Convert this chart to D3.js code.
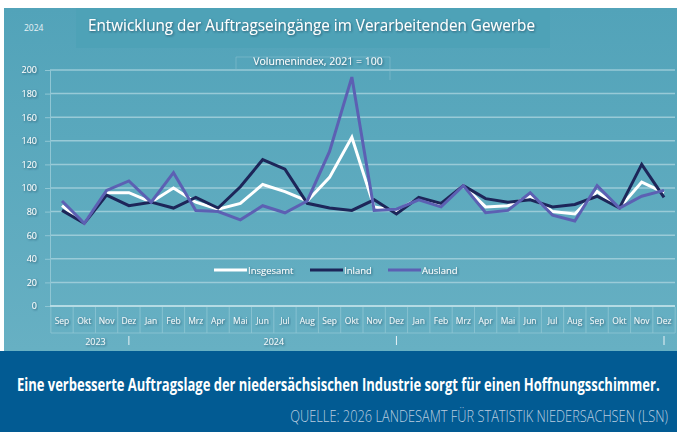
<!DOCTYPE html>
<html>
<head>
<meta charset="utf-8">
<script src="https://cdn.jsdelivr.net/npm/d3@7"></script>
<style>
  body { margin: 0; background: #fff; }
  svg { display: block; }
</style>
</head>
<body>
<div id="chart"></div>
<script>
// Monatsachse Sep 2023 bis Dez 2025
const months = ["Sep","Okt","Nov","Dez","Jan","Feb","Mrz","Apr","Mai","Jun","Jul","Aug",
  "Sep","Okt","Nov","Dez","Jan","Feb","Mrz","Apr","Mai","Jun","Jul","Aug","Sep","Okt","Nov","Dez"];
const years = [{ label: "2023", from: 0, to: 3 }, { label: "2024", from: 4, to: 15 }, { label: "", from: 16, to: 27 }];

const insgesamt = [85, 70, 96, 96, 88, 100, 88, 82, 87, 103, 97, 89,
  109, 143, 84, 81, 91, 86, 102, 84, 85, 93, 80, 78, 97, 83, 105, 96];
const inland = [81, 70, 94, 85, 88, 83, 92, 83, 101, 124, 116, 87,
  83, 81, 90, 78, 92, 87, 102, 91, 88, 90, 84, 86, 93, 83, 120, 92];
const ausland = [89, 70, 98, 106, 88, 113, 81, 80, 73, 85, 79, 89,
  131, 194, 81, 82, 90, 84, 102, 79, 81, 96, 77, 72, 102, 83, 93, 98];

const yTicks = [0, 20, 40, 60, 80, 100, 120, 140, 160, 180, 200];

const W = 677, H = 432;
const svg = d3.select("#chart").append("svg").attr("width", W).attr("height", H);

const defs = svg.append("defs");
const bg = defs.append("linearGradient").attr("id", "bg").attr("x1", 0).attr("y1", 0).attr("x2", 0).attr("y2", 1);
bg.append("stop").attr("offset", "0%").attr("stop-color", "#52a3b9");
bg.append("stop").attr("offset", "100%").attr("stop-color", "#67b0c3");
const shadow = defs.append("filter").attr("id", "sh").attr("x", "-10%").attr("y", "-30%").attr("width", "120%").attr("height", "160%");
shadow.append("feDropShadow").attr("dx", 1).attr("dy", 1).attr("stdDeviation", 0.8)
  .attr("flood-color", "#1c3d55").attr("flood-opacity", 0.7);

// Hintergrund
svg.append("rect").attr("x", 4).attr("y", 8).attr("width", W - 4).attr("height", 343).attr("fill", "url(#bg)");
svg.append("rect").attr("x", 76).attr("y", 8).attr("width", 474).attr("height", 40).attr("fill", "#4ea2b7");
svg.append("rect").attr("x", 0).attr("y", 351).attr("width", W).attr("height", H - 351).attr("fill", "#025b93");

// Titel
svg.append("text").attr("x", 88).attr("y", 31).attr("fill", "#fff").attr("filter", "url(#sh)")
  .style("font-family", "'Open Sans', sans-serif").style("font-size", "16.5px")
  .attr("textLength", 447).attr("lengthAdjust", "spacingAndGlyphs")
  .text("Entwicklung der Auftragseingänge im Verarbeitenden Gewerbe");
svg.append("text").attr("x", 24).attr("y", 31).attr("fill", "#e8f2f6")
  .style("font-family", "'Open Sans', sans-serif").style("font-size", "8.5px").text("2024");

// Skalen
const x = d3.scalePoint().domain(d3.range(months.length)).range([62, 664]);
const step = x.step();
const y = d3.scaleLinear().domain([0, 200]).range([306, 70]);

// Gitternetz
svg.append("g").selectAll("line").data(yTicks.filter(d => d > 0)).join("line")
  .attr("x1", 50).attr("x2", 675).attr("y1", d => y(d)).attr("y2", d => y(d))
  .attr("stroke", "#a9d3de").attr("stroke-width", 1.5).attr("opacity", 0.8);

// Y-Achse
const yAxis = svg.append("g").attr("transform", "translate(50,0)")
  .call(d3.axisLeft(y).tickValues(yTicks).tickSize(5).tickPadding(8));
yAxis.select(".domain").attr("stroke", "#8fc6d4");
yAxis.selectAll(".tick line").attr("stroke", "#8fc6d4");
yAxis.selectAll("text").attr("fill", "#fff").attr("filter", "url(#sh)")
  .style("font-family", "'Open Sans', sans-serif").style("font-size", "9px");

// Untertitel
svg.append("text").attr("x", 318).attr("y", 65).attr("text-anchor", "middle").attr("fill", "#fff")
  .attr("filter", "url(#sh)").style("font-family", "'Open Sans', sans-serif").style("font-size", "10.5px")
  .text("Volumenindex, 2021 = 100");
svg.append("path").attr("d", "M236,70V57M236,57H390V80").attr("fill", "none").attr("stroke", "#86c0cf").attr("opacity", 0.6);

// X-Achse (mehrstufig)
svg.append("line").attr("x1", 50).attr("x2", 675).attr("y1", y(0)).attr("y2", y(0))
  .attr("stroke", "#b5dbe4").attr("stroke-width", 2);
const xg = svg.append("g");
xg.selectAll("line.sep").data(d3.range(months.length + 1)).join("line").attr("class", "sep")
  .attr("x1", i => 62 - step / 2 + i * step).attr("x2", i => 62 - step / 2 + i * step)
  .attr("y1", 307).attr("y2", 333).attr("stroke", "#8fc6d4").attr("stroke-width", 0.8);
xg.append("line").attr("x1", 51).attr("x2", 675).attr("y1", 333).attr("y2", 333)
  .attr("stroke", "#8fc6d4").attr("stroke-width", 0.8);
xg.selectAll("text.m").data(months).join("text").attr("class", "m")
  .attr("x", (d, i) => x(i)).attr("y", 324).attr("text-anchor", "middle").attr("fill", "#f2f8fa")
  .attr("filter", "url(#sh)").style("font-family", "'Open Sans', sans-serif").style("font-size", "8.5px")
  .text(d => d);
xg.selectAll("text.yr").data(years).join("text").attr("class", "yr")
  .attr("x", d => (x(d.from) + x(d.to)) / 2).attr("y", 345).attr("text-anchor", "middle")
  .attr("fill", "#f2f8fa").attr("filter", "url(#sh)")
  .style("font-family", "'Open Sans', sans-serif").style("font-size", "9px").text(d => d.label);
xg.selectAll("line.yb").data(years).join("line").attr("class", "yb")
  .attr("x1", d => x(d.to)).attr("x2", d => x(d.to)).attr("y1", 336).attr("y2", 345)
  .attr("stroke", "#e8f2f6").attr("stroke-width", 1);

// Linien
const series = [
  { name: "Insgesamt", values: insgesamt, color: "#ffffff" },
  { name: "Inland", values: inland, color: "#1d2659" },
  { name: "Ausland", values: ausland, color: "#5c60b3" }
];
const line = d3.line().x((d, i) => x(i)).y(d => y(d));
svg.append("g").selectAll("path").data(series).join("path")
  .attr("d", d => line(d.values)).attr("fill", "none").attr("stroke", d => d.color)
  .attr("stroke-width", 3).attr("stroke-linejoin", "miter");

// Legende
const legX = [214, 310, 388];
const leg = svg.append("g").selectAll("g").data(series).join("g")
  .attr("transform", (d, i) => `translate(${legX[i]},270)`);
leg.append("line").attr("x1", 0).attr("x2", 33).attr("stroke", d => d.color).attr("stroke-width", 3);
leg.append("text").attr("x", 34).attr("y", 3.5).attr("fill", "#fff").attr("filter", "url(#sh)")
  .style("font-family", "'Open Sans', sans-serif").style("font-size", "9.5px").text(d => d.name);

// Fußzeile (schmale Schrift über horizontale Stauchung)
const cap = svg.append("text").attr("fill", "#fff")
  .style("font-family", "'Open Sans', sans-serif").style("font-weight", "bold").style("font-size", "18px")
  .text("Eine verbesserte Auftragslage der niedersächsischen Industrie sorgt für einen Hoffnungsschimmer.");
const capW = cap.node().getComputedTextLength();
cap.attr("transform", `translate(17,391) scale(${643 / capW},1)`);

const src = svg.append("text").attr("fill", "#b9cde0").attr("text-anchor", "end")
  .style("font-family", "'Open Sans', sans-serif").style("font-weight", "300").style("font-size", "17px")
  .text("QUELLE: 2026 LANDESAMT FÜR STATISTIK NIEDERSACHSEN (LSN)");
const srcW = src.node().getComputedTextLength();
src.attr("transform", `translate(668,422) scale(${378 / srcW},1)`);
</script>
</body>
</html>
